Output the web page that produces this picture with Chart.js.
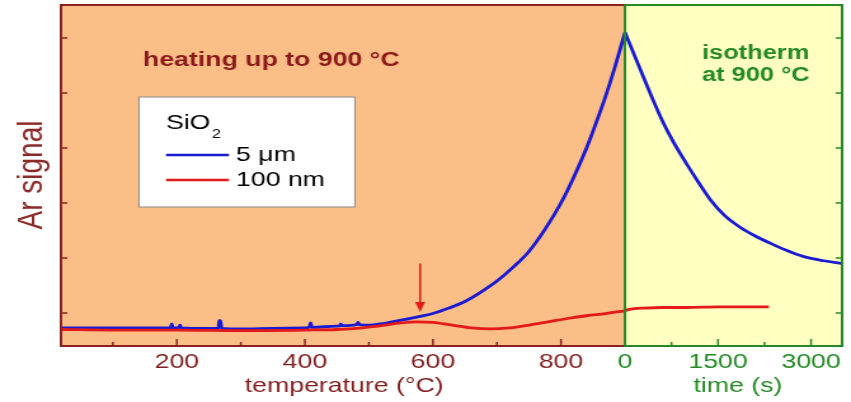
<!DOCTYPE html>
<html>
<head>
<meta charset="utf-8">
<script src="https://cdn.jsdelivr.net/npm/chart.js@4.4.0/dist/chart.umd.min.js"></script>
<style>
  html, body { margin: 0; padding: 0; background: #fff; overflow: hidden; }
  /* the figure is drawn narrow and stretched sideways, like the original slide */
  #wrap { width: 670px; height: 402px; transform: scaleX(1.2701); transform-origin: 0 0; }
</style>
</head>
<body>
<div id="wrap"><canvas id="myChart" width="670" height="402"></canvas></div>
<script>
// heating ramp: temperature (°C) -> Ar signal (a.u.)
const blueTemp = [20, 100, 150, 190, 192, 194, 203, 205, 207, 250, 265, 266, 268, 270, 300, 350, 400, 407, 409, 411, 450, 454, 456, 458, 481, 483, 485, 500, 550, 580, 600, 625, 650, 675, 700, 725, 750, 775, 800, 820, 840, 855, 870, 885, 900]
const blueHeat = [-0.27, -0.27, -0.27, -0.27, -0.2, -0.27, -0.27, -0.22, -0.27, -0.28, -0.28, -0.14, -0.14, -0.28, -0.29, -0.28, -0.27, -0.26, -0.18, -0.26, -0.24, -0.24, -0.2, -0.23, -0.21, -0.17, -0.21, -0.22, -0.13, -0.06, -0.01, 0.09, 0.21, 0.38, 0.58, 0.83, 1.12, 1.52, 2.0, 2.47, 3.0, 3.46, 3.95, 4.5, 5.1]
const redTemp = [20, 100, 200, 300, 400, 450, 490, 520, 550, 575, 600, 630, 660, 690, 720, 750, 780, 810, 840, 870, 900]
const redHeat = [-0.3, -0.31, -0.31, -0.32, -0.31, -0.3, -0.27, -0.23, -0.18, -0.16, -0.17, -0.22, -0.27, -0.29, -0.27, -0.22, -0.16, -0.1, -0.05, -0.01, 0.04]

// isotherm at 900 °C: time (s) -> Ar signal
const blueTime = [0, 100, 250, 450, 600, 775, 1000, 1200, 1370, 1600, 1855, 2100, 2340, 2600, 2870, 3200, 3500]
const blueIso = [5.1, 4.83, 4.42, 3.88, 3.5, 3.12, 2.7, 2.35, 2.07, 1.78, 1.56, 1.4, 1.27, 1.14, 1.03, 0.95, 0.9]
const redTime = [0, 50, 150, 300, 600, 1000, 1500, 2000, 2320]
const redIso = [0.04, 0.06, 0.08, 0.09, 0.1, 0.1, 0.11, 0.11, 0.11]

// axis ticks
const tempMajor = [200, 400, 600, 800]
const tempMinor = [100, 300, 500, 700]
const timeMajor = [1500, 3000]
const timeMinor = [750, 2250]
const signalTicks = [0, 1, 2, 3, 4, 5]
const arrowTemp = 580

// both parts share one x axis: time is appended after 900 °C
const T_END = 900
const TIME_SCALE = 0.0969
const TIME_MAX = 3500
const toAxis = t => T_END + t * TIME_SCALE

const FONT = '"Liberation Sans", Arial, sans-serif'
const DARK_RED = '#7f1d1d'
const GREEN = '#258a25'
const BLUE = '#1a1ad2'
const RED = '#e41a1a'

const pts = (xs, ys, f) => xs.map((x, i) => ({ x: f ? f(x) : x, y: ys[i] }))

const panels = {
  id: 'panels',
  beforeDatasetsDraw(chart) {
    const { ctx, chartArea: a, scales: { x } } = chart
    const xm = x.getPixelForValue(T_END)
    ctx.save()
    ctx.fillStyle = '#fbbe87'
    ctx.fillRect(a.left, a.top, xm - a.left, a.bottom - a.top)
    ctx.fillStyle = '#ffffc2'
    ctx.fillRect(xm, a.top, a.right - xm, a.bottom - a.top)
    ctx.restore()
  },
  afterDatasetsDraw(chart) {
    const { ctx, chartArea: a, scales: { x, y } } = chart
    const xm = x.getPixelForValue(T_END)
    ctx.save()

    // frames
    ctx.lineWidth = 2
    ctx.strokeStyle = '#8b2020'
    ctx.beginPath()
    ctx.moveTo(xm, a.top); ctx.lineTo(a.left, a.top); ctx.lineTo(a.left, a.bottom); ctx.lineTo(xm, a.bottom)
    ctx.stroke()
    ctx.strokeStyle = GREEN
    ctx.beginPath()
    ctx.moveTo(xm, a.top); ctx.lineTo(a.right, a.top); ctx.lineTo(a.right, a.bottom); ctx.lineTo(xm, a.bottom); ctx.lineTo(xm, a.top)
    ctx.stroke()

    // inward ticks
    const tick = (px, len, col) => {
      ctx.strokeStyle = col
      ctx.beginPath(); ctx.moveTo(px, a.bottom); ctx.lineTo(px, a.bottom - len); ctx.stroke()
    }
    ctx.lineWidth = 1.5
    tempMajor.forEach(v => tick(x.getPixelForValue(v), 7, '#8b2020'))
    tempMinor.forEach(v => tick(x.getPixelForValue(v), 4, '#8b2020'))
    timeMajor.forEach(v => tick(x.getPixelForValue(toAxis(v)), 7, GREEN))
    timeMinor.forEach(v => tick(x.getPixelForValue(toAxis(v)), 4, GREEN))
    signalTicks.forEach(v => {
      const py = y.getPixelForValue(v)
      ctx.strokeStyle = '#8b2020'
      ctx.beginPath(); ctx.moveTo(a.left, py); ctx.lineTo(a.left + 5, py); ctx.stroke()
      ctx.strokeStyle = GREEN
      ctx.beginPath(); ctx.moveTo(a.right, py); ctx.lineTo(a.right - 5, py); ctx.stroke()
    })

    // arrow at the small 100 nm hump
    const ax = x.getPixelForValue(arrowTemp)
    const tip = y.getPixelForValue(0.02)
    ctx.strokeStyle = RED
    ctx.fillStyle = RED
    ctx.lineWidth = 1.6
    ctx.beginPath(); ctx.moveTo(ax, y.getPixelForValue(0.9)); ctx.lineTo(ax, tip - 8); ctx.stroke()
    ctx.beginPath(); ctx.moveTo(ax - 4, tip - 10); ctx.lineTo(ax + 4, tip - 10); ctx.lineTo(ax, tip); ctx.closePath(); ctx.fill()

    // panel captions
    ctx.textBaseline = 'alphabetic'
    ctx.textAlign = 'left'
    ctx.font = 'bold 21px ' + FONT
    ctx.fillStyle = '#8b1a1a'
    ctx.fillText('heating up to 900 °C', 112.6, 66)
    ctx.font = 'bold 20px ' + FONT
    ctx.fillStyle = GREEN
    ctx.fillText('isotherm', 552.7, 59)
    ctx.fillText('at 900 °C', 552.7, 81)

    // legend box
    ctx.fillStyle = '#fff'
    ctx.fillRect(109.4, 97, 170, 110)
    ctx.strokeStyle = '#8a8a8a'
    ctx.lineWidth = 1
    ctx.strokeRect(109.4, 97, 170, 110)
    ctx.fillStyle = '#000'
    ctx.font = '21px ' + FONT
    ctx.fillText('SiO', 130.7, 129)
    const w = ctx.measureText('SiO').width
    ctx.font = '13px ' + FONT
    ctx.fillText('2', 130.7 + w + 1, 138)
    ctx.lineWidth = 2.4
    ;[[BLUE, 155, '5 μm'], [RED, 180, '100 nm']].forEach(([c, ly, txt]) => {
      ctx.strokeStyle = c
      ctx.beginPath(); ctx.moveTo(130.7, ly); ctx.lineTo(180.3, ly); ctx.stroke()
      ctx.fillStyle = '#000'
      ctx.font = '21px ' + FONT
      ctx.textBaseline = 'middle'
      ctx.fillText(txt, 185.8, ly)
    })

    // axis titles
    ctx.textAlign = 'center'
    ctx.textBaseline = 'middle'
    ctx.font = '21px ' + FONT
    ctx.fillStyle = DARK_RED
    ctx.fillText('temperature (°C)', 271, 386)
    ctx.fillStyle = GREEN
    ctx.fillText('time (s)', 581, 386)
    ctx.translate(25.2, 175)
    ctx.rotate(-Math.PI / 2)
    ctx.font = '28px ' + FONT
    ctx.fillStyle = '#8b2a2a'
    ctx.fillText('Ar signal', 0, 0)
    ctx.restore()
  }
}

const line = (data, color) => ({
  data, borderColor: color, borderWidth: 2.8, pointRadius: 0,
  cubicInterpolationMode: 'monotone', fill: false
})

new Chart(document.getElementById('myChart'), {
  type: 'line',
  data: {
    datasets: [
      line(pts(redTemp, redHeat), RED),
      line(pts(redTime, redIso, toAxis), RED),
      line(pts(blueTemp, blueHeat), BLUE),
      line(pts(blueTime, blueIso, toAxis), BLUE)
    ]
  },
  options: {
    responsive: false,
    animation: false,
    layout: { padding: { left: 48, right: 7, top: 5, bottom: 0 } },
    plugins: { legend: { display: false }, tooltip: { enabled: false } },
    scales: {
      x: {
        type: 'linear',
        min: 19,
        max: toAxis(TIME_MAX),
        afterBuildTicks: s => {
          s.ticks = tempMajor.map(v => ({ value: v }))
            .concat([{ value: T_END }])
            .concat(timeMajor.map(t => ({ value: toAxis(t) })))
        },
        afterFit: s => { s.height = 56 },
        grid: { display: false, drawTicks: false },
        border: { display: false },
        ticks: {
          autoSkip: false,
          maxRotation: 0,
          padding: 4,
          font: { family: FONT, size: 21 },
          color: c => (c.tick && c.tick.value < 850 ? DARK_RED : GREEN),
          callback: v => (v < 850 ? v : Math.round((v - T_END) / TIME_SCALE))
        }
      },
      y: { display: false, min: -0.6, max: 5.6 }
    }
  },
  plugins: [panels]
})
</script>
</body>
</html>
